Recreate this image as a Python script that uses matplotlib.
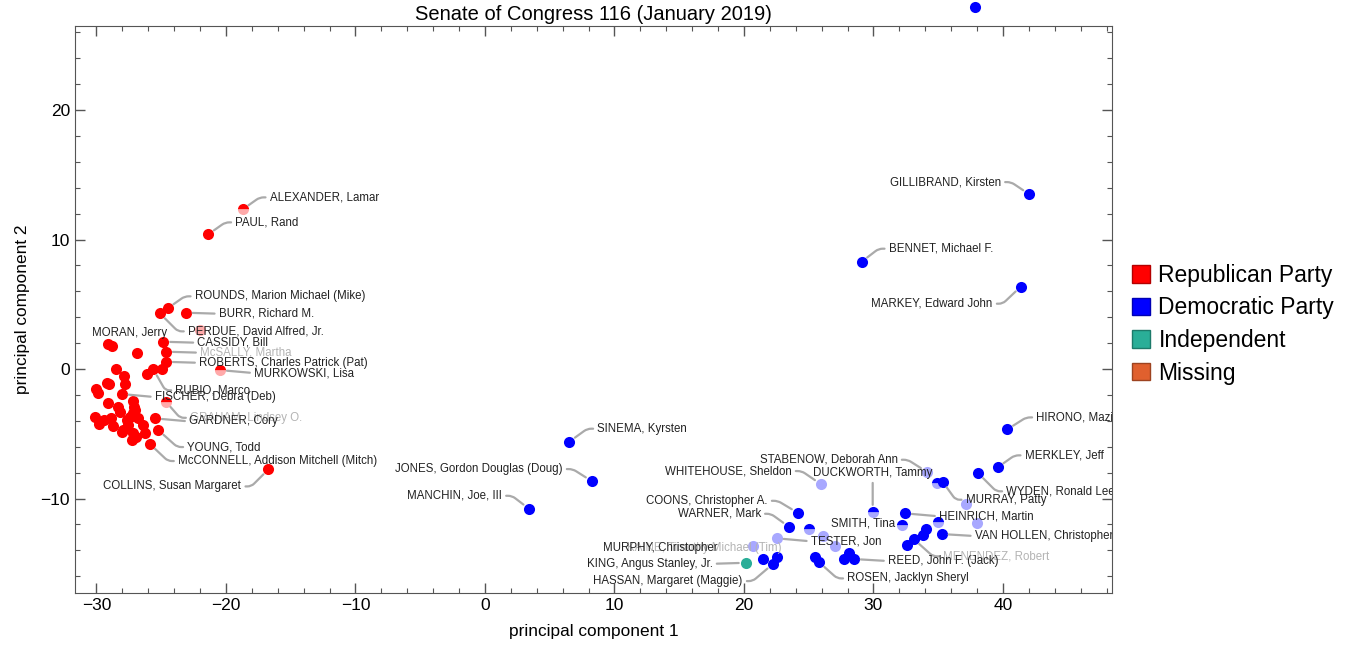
import math
import matplotlib
matplotlib.use('Agg')
import matplotlib.pyplot as plt
from matplotlib.patches import Patch
from matplotlib.ticker import MultipleLocator

plt.rcParams['font.family'] = ['Liberation Sans', 'DejaVu Sans']

# ---- data: principal components ----
rep_x = [-18.71, -21.37, -24.50, -25.10, -23.11, -22.01, -24.84, -29.09, -28.83, -26.90,
         -24.63, -24.63, -20.46, -24.97, -25.61, -26.12, -28.49, -27.85, -27.80, -29.21,
         -29.01, -30.04, -29.86, -28.05, -29.09, -28.36, -27.16, -27.10, -24.63, -30.12,
         -29.78, -28.90, -28.70, -27.67, -27.41, -27.16, -27.03, -27.93, -27.16, -27.28,
         -26.25, -26.39, -25.48, -25.23, -25.87, -16.73, -28.05, -27.57, -26.80, -26.95,
         -28.19, -29.42]
rep_y = [12.33, 10.40, 4.69, 4.30, 4.35, 3.01, 2.11, 1.93, 1.78, 1.21,
         1.34, 0.56, -0.08, -0.02, -0.02, -0.39, 0.02, -0.54, -1.18, -1.10,
         -1.18, -1.57, -1.88, -1.93, -2.65, -2.91, -2.45, -2.96, -2.53, -3.68,
         -4.25, -3.81, -4.40, -3.94, -3.68, -3.42, -3.17, -4.71, -4.97, -5.48,
         -4.97, -4.32, -3.81, -4.71, -5.79, -7.75, -4.89, -4.32, -3.78, -5.25,
         -3.32, -3.94]
rep_names = ['ALEXANDER, Lamar', 'PAUL, Rand', 'ROUNDS, Marion Michael (Mike)',
             'PERDUE, David Alfred, Jr.', 'BURR, Richard M.', '', 'CASSIDY, Bill',
             'MORAN, Jerry', '', '', 'McSALLY, Martha', 'ROBERTS, Charles Patrick (Pat)',
             'MURKOWSKI, Lisa', '', 'RUBIO, Marco', '', '', '', '', '', '', '', '',
             'FISCHER, Debra (Deb)', '', '', '', '', 'GRAHAM, Lindsey O.', '',
             '', '', '', '', '', '', '', '', '', '', '', '',
             'GARDNER, Cory', 'YOUNG, Todd', 'McCONNELL, Addison Mitchell (Mitch)',
             'COLLINS, Susan Margaret', '', '', '', '', '', '']

dem_x = [37.84, 42.01, 29.09, 41.37, 6.51, 8.24, 3.40, 40.33, 39.59, 38.09,
         34.11, 34.88, 35.34, 37.14, 32.43, 35.00, 38.02, 32.18, 34.05, 33.85,
         33.13, 32.56, 35.27, 29.94, 25.92, 24.15, 23.47, 25.04, 26.08, 27.03,
         22.53, 20.67, 21.44, 22.22, 22.57, 25.48, 25.81, 27.75, 28.13, 28.49]
dem_y = [27.95, 13.51, 8.29, 6.36, -5.61, -8.65, -10.79, -4.66, -7.59, -8.05,
         -7.93, -8.78, -8.70, -10.42, -11.14, -11.79, -11.87, -12.05, -12.38, -12.82,
         -13.15, -13.59, -12.74, -11.02, -8.88, -11.10, -12.18, -12.38, -12.90, -13.67,
         -13.07, -13.67, -14.70, -15.06, -14.54, -14.49, -14.93, -14.67, -14.23, -14.67]
dem_names = ['', 'GILLIBRAND, Kirsten', 'BENNET, Michael F.', 'MARKEY, Edward John',
             'SINEMA, Kyrsten', 'JONES, Gordon Douglas (Doug)', 'MANCHIN, Joe, III',
             'HIRONO, Mazie K.', 'MERKLEY, Jeff', 'WYDEN, Ronald Lee',
             'STABENOW, Deborah Ann', '', 'MURRAY, Patty', '', 'HEINRICH, Martin', '', '',
             'SMITH, Tina', '', '', 'MENENDEZ, Robert', '', 'VAN HOLLEN, Christopher',
             'DUCKWORTH, Tammy', 'WHITEHOUSE, Sheldon', 'COONS, Christopher A.',
             'WARNER, Mark', '', '', '', 'TESTER, Jon', 'KAINE, Timothy Michael (Tim)',
             'MURPHY, Christopher', 'HASSAN, Margaret (Maggie)', '', '',
             'ROSEN, Jacklyn Sheryl', '', '', 'REED, John F. (Jack)']

ind_x = [20.13]
ind_y = [-14.96]
ind_names = ['KING, Angus Stanley, Jr.']

legend_labels = ['Republican Party', 'Democratic Party', 'Independent', 'Missing']

# ---- style ----
RED, RED_L = '#ff0000', '#ffaaaa'
BLUE, BLUE_L = '#0000ff', '#a8a8ff'
TEAL, TEAL_L = '#2aae98', '#9fdcd1'
ORANGE = '#e0602e'
rep_light, rep_half = {5}, {0, 12, 28}
dem_light, dem_half = {10, 13, 16, 24, 28, 29, 30, 31}, {11, 15, 17, 23, 27}

# label placement: offset in pixels from the point (dx right, dy up), alignment,
# leader line yes/no, faded text
lab = {
    'ALEXANDER, Lamar': (27, 12, 'left', True, False),
    'PAUL, Rand': (27, 12, 'left', True, False),
    'ROUNDS, Marion Michael (Mike)': (27, 12, 'left', True, False),
    'BURR, Richard M.': (33, -1, 'left', True, False),
    'PERDUE, David Alfred, Jr.': (28, -18, 'left', True, False),
    'CASSIDY, Bill': (34, -1, 'left', True, False),
    'MORAN, Jerry': (59, 11, 'right', False, False),
    'McSALLY, Martha': (34, -1, 'left', True, True),
    'ROBERTS, Charles Patrick (Pat)': (33, -1, 'left', True, False),
    'MURKOWSKI, Lisa': (34, -3, 'left', True, False),
    'RUBIO, Marco': (22, -21, 'left', True, False),
    'FISCHER, Debra (Deb)': (33, -3, 'left', True, False),
    'GRAHAM, Lindsey O.': (24, -16, 'left', True, True),
    'GARDNER, Cory': (34, -3, 'left', True, False),
    'YOUNG, Todd': (29, -17, 'left', True, False),
    'McCONNELL, Addison Mitchell (Mitch)': (28, -17, 'left', True, False),
    'COLLINS, Susan Margaret': (-27, -17, 'right', True, False),
    'GILLIBRAND, Kirsten': (-28, 12, 'right', True, False),
    'BENNET, Michael F.': (27, 13, 'left', True, False),
    'MARKEY, Edward John': (-28, -17, 'right', True, False),
    'SINEMA, Kyrsten': (28, 13, 'left', True, False),
    'JONES, Gordon Douglas (Doug)': (-29, 12, 'right', True, False),
    'MANCHIN, Joe, III': (-27, 13, 'right', True, False),
    'HIRONO, Mazie K.': (29, 12, 'left', True, False),
    'MERKLEY, Jeff': (27, 12, 'left', True, False),
    'WYDEN, Ronald Lee': (28, -18, 'left', True, False),
    'STABENOW, Deborah Ann': (-29, 12, 'right', True, False),
    'MURRAY, Patty': (23, -18, 'left', True, False),
    'HEINRICH, Martin': (34, -3, 'left', True, False),
    'SMITH, Tina': (-7, 2, 'right', False, False),
    'MENENDEZ, Robert': (29, -17, 'left', True, True),
    'VAN HOLLEN, Christopher': (33, -2, 'left', True, False),
    'DUCKWORTH, Tammy': (0, 33, 'center', True, False),
    'WHITEHOUSE, Sheldon': (-29, 13, 'right', True, False),
    'COONS, Christopher A.': (-30, 12, 'right', True, False),
    'WARNER, Mark': (-28, 13, 'right', True, False),
    'TESTER, Jon': (34, -3, 'left', True, False),
    'KAINE, Timothy Michael (Tim)': (29, -2, 'right', False, True),
    'MURPHY, Christopher': (-45, 11, 'right', False, False),
    'KING, Angus Stanley, Jr.': (-33, -1, 'right', True, False),
    'HASSAN, Margaret (Maggie)': (-30, -17, 'right', True, False),
    'ROSEN, Jacklyn Sheryl': (28, -16, 'left', True, False),
    'REED, John F. (Jack)': (34, -2, 'left', True, False),
}

fig = plt.figure(figsize=(13.51, 6.55), dpi=100)
ax = fig.add_axes([0.0555, 0.0951, 0.7676, 0.8652])


def draw_points(xs, ys, col, col_l, light, half):
    for i, (x, y) in enumerate(zip(xs, ys)):
        if i in half:
            ax.plot(x, y, 'o', ms=8, mfc=col, mfcalt=col_l, fillstyle='top',
                    mec='none', clip_on=False, zorder=3)
        else:
            ax.plot(x, y, 'o', ms=8, mfc=col_l if i in light else col,
                    mec='none', clip_on=False, zorder=3)


def draw_labels(xs, ys, names):
    for x, y, nm in zip(xs, ys, names):
        if not nm:
            continue
        dx, dy, ha, line, faded = lab[nm]
        props = None
        if line:
            if ha == 'center' or abs(dy) < 4:
                cs = 'arc3,rad=0'
            else:
                stub = min(10, abs(dx) / 2)
                angB = math.degrees(math.atan2(dy, dx - math.copysign(stub, dx)))
                cs = 'angle,angleA=0,angleB=%.1f,rad=4' % angB
            rel = {'left': (0, 0.5), 'right': (1, 0.5), 'center': (0.5, 0)}[ha]
            props = dict(arrowstyle='-', color='#aaaaaa', lw=1.6, patchA=None,
                         shrinkA=3, shrinkB=5, relpos=rel, connectionstyle=cs)
        t = ax.annotate(nm, xy=(x, y), xytext=(dx, dy), textcoords='offset pixels',
                        ha=ha, va='bottom' if ha == 'center' else 'center',
                        fontsize=8.3, color='#b4b4b4' if faded else '#222222',
                        arrowprops=props, zorder=4, clip_on=True)
        if t.arrow_patch is not None:
            t.arrow_patch.set_zorder(2)


draw_points(rep_x, rep_y, RED, RED_L, rep_light, rep_half)
draw_points(dem_x, dem_y, BLUE, BLUE_L, dem_light, dem_half)
draw_points(ind_x, ind_y, TEAL, TEAL_L, set(), set())
draw_labels(rep_x, rep_y, rep_names)
draw_labels(dem_x, dem_y, dem_names)
draw_labels(ind_x, ind_y, ind_names)

ax.set_xlim(-31.66, 48.42)
ax.set_ylim(-17.27, 26.49)
ax.xaxis.set_major_locator(MultipleLocator(10))
ax.xaxis.set_minor_locator(MultipleLocator(2))
ax.yaxis.set_major_locator(MultipleLocator(10))
ax.yaxis.set_minor_locator(MultipleLocator(2))
ax.tick_params(which='both', direction='in', top=True, right=True,
               color='#555555', labelsize=12.5)
ax.tick_params(which='major', length=7, width=1)
ax.tick_params(which='minor', length=3.6, width=0.8)
for s in ax.spines.values():
    s.set_color('#555555')
ax.set_xlabel('principal component 1', fontsize=12.4, labelpad=8)
ax.set_ylabel('principal component 2', fontsize=12.4, labelpad=8)
ax.set_title('Senate of Congress 116 (January 2019)', fontsize=14.5, pad=4)

handles = []
for c in [RED, BLUE, TEAL, ORANGE]:
    r, g, b = matplotlib.colors.to_rgb(c)
    handles.append(Patch(facecolor=c, edgecolor=(r * 0.7, g * 0.7, b * 0.7), lw=1))
fig.legend(handles, legend_labels, loc='center left', bbox_to_anchor=(0.838, 0.505),
           frameon=False, fontsize=16.5, handlelength=0.8, handleheight=0.8,
           handletextpad=0.35, labelspacing=0.42, borderpad=0, borderaxespad=0)

fig.savefig('out.png', dpi=100)
